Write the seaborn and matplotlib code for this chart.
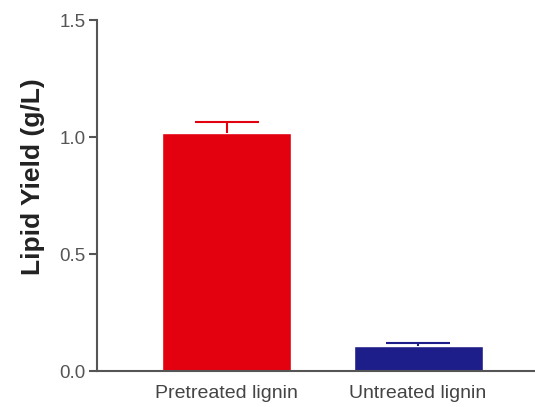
import matplotlib
matplotlib.use("Agg")
import matplotlib.pyplot as plt
import seaborn as sns
import pandas as pd

categories = ["Pretreated lignin", "Untreated lignin"]
values = [1.017, 0.108]
errors = [0.045, 0.010]
colors = ["#E3000F", "#1E1E8A"]
yticks = [0.0, 0.5, 1.0, 1.5]
ylabel = "Lipid Yield (g/L)"

sns.set_theme(style="white")
plt.rcParams["font.family"] = ["Liberation Sans", "DejaVu Sans"]

df = pd.DataFrame({"cat": categories, "val": values})

fig = plt.figure(figsize=(5.35, 4.07), dpi=100)
ax = fig.add_axes([97/535, 1 - 371/407, 1 - 97/535, (371 - 20)/407])

sns.barplot(data=df, x="cat", y="val", hue="cat", palette=colors, legend=False,
            errorbar=None, width=0.674, saturation=1, ax=ax)

for i, (v, e, c) in enumerate(zip(values, errors, colors)):
    eb = ax.errorbar(i, v, yerr=[[0], [e]], fmt="none", ecolor=c, elinewidth=1.5,
                     capsize=23, capthick=1.5, zorder=3)
    caps = eb[1]
    if len(caps) > 1:
        caps[0].set_visible(False)

ax.set_xlim(-0.676, 1.61)
ax.set_ylim(0, 1.5)
ax.set_yticks(yticks)
ax.set_yticklabels([f"{t:.1f}" for t in yticks])
ax.set_xlabel("")
ax.set_ylabel(ylabel, fontsize=19, fontweight="bold", color="#222222")
ax.yaxis.set_label_coords(-0.118, 0.553)

for s in ["top", "right"]:
    ax.spines[s].set_visible(False)
for s in ["left", "bottom"]:
    ax.spines[s].set_color("#555555")
    ax.spines[s].set_linewidth(1.5)

ax.tick_params(axis="y", which="both", left=True, length=6, width=1.5,
               color="#555555", labelsize=13.5, labelcolor="#555555", pad=2)
ax.tick_params(axis="x", length=0, labelsize=14, labelcolor="#444444", pad=10)

fig.savefig("out.png", dpi=100)
